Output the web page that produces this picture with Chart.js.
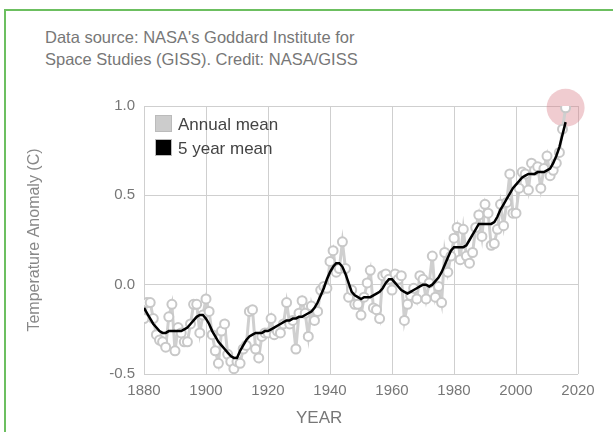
<!DOCTYPE html>
<html>
<head>
<meta charset="utf-8">
<script src="https://cdn.jsdelivr.net/npm/chart.js@4.4.0/dist/chart.umd.min.js"></script>
<style>
  body { margin: 0; background: #fff; font-family: "Liberation Sans", Arial, sans-serif; }
  #wrap { position: relative; width: 613px; height: 432px; overflow: hidden; }
  #frame { position: absolute; left: 4px; top: 9px; width: 700px; height: 500px; border: 2px solid #6cbf60; }
  #credit { position: absolute; left: 45px; top: 26px; font-size: 16.5px; line-height: 22px; color: #777; }
  #myChart { position: absolute; left: 0; top: 0; }
  .lg { position: absolute; left: 155px; font-size: 17px; color: #444; line-height: 18px; }
  .lg span { display: inline-block; width: 15px; height: 15px; border: 1px solid #bbb; vertical-align: -2px; margin-right: 6px; }
  #xtitle { position: absolute; left: 296px; top: 408px; font-size: 17px; color: #777; }
</style>
</head>
<body>
<div id="wrap">
  <div id="frame"></div>
  <div id="credit">Data source: NASA's Goddard Institute for<br>Space Studies (GISS). Credit: NASA/GISS</div>
  <canvas id="myChart" width="613" height="432"></canvas>
  <div class="lg" style="top:115px"><span style="background:#ccc"></span>Annual mean</div>
  <div class="lg" style="top:139px"><span style="background:#000"></span>5 year mean</div>
  <div id="xtitle">YEAR</div>
</div>
<script>
const firstYear = 1880;
const xTicks = [1880, 1900, 1920, 1940, 1960, 1980, 2000, 2020];
const yTicks = [-0.5, 0.0, 0.5, 1.0];

// annual mean, 1880..2016
const annualMean = [
  -0.19, -0.10, -0.10, -0.19, -0.28, -0.31, -0.32, -0.35, -0.18, -0.11,
  -0.37, -0.24, -0.27, -0.32, -0.32, -0.22, -0.11, -0.11, -0.27, -0.17,
  -0.08, -0.15, -0.28, -0.37, -0.44, -0.26, -0.22, -0.39, -0.43, -0.47,
  -0.43, -0.44, -0.36, -0.34, -0.15, -0.14, -0.36, -0.41, -0.29, -0.27,
  -0.27, -0.19, -0.28, -0.26, -0.27, -0.22, -0.10, -0.22, -0.20, -0.36,
  -0.16, -0.09, -0.16, -0.29, -0.12, -0.20, -0.15, -0.03, -0.01, -0.02,
   0.13,  0.19,  0.07,  0.09,  0.24,  0.09, -0.07, -0.03, -0.11, -0.11,
  -0.17, -0.07,  0.01,  0.08, -0.13, -0.14, -0.19,  0.05,  0.06,  0.03,
  -0.03,  0.06,  0.03,  0.05, -0.20, -0.11, -0.06, -0.02, -0.08,  0.05,
   0.03, -0.08,  0.01,  0.16, -0.07, -0.01, -0.10,  0.18,  0.07,  0.16,
   0.26,  0.32,  0.14,  0.31,  0.16,  0.12,  0.18,  0.32,  0.39,  0.27,
   0.45,  0.40,  0.22,  0.23,  0.31,  0.45,  0.33,  0.46,  0.62,  0.40,
   0.40,  0.54,  0.63,  0.62,  0.53,  0.68,  0.64,  0.66,  0.54,  0.65,
   0.72,  0.61,  0.64,  0.68,  0.74,  0.87,  0.99
];

// 5 year mean, 1880..2016
const fiveYearMean = [
  -0.13, -0.16, -0.19, -0.22, -0.24, -0.26, -0.27, -0.27, -0.26, -0.26,
  -0.26, -0.26, -0.26, -0.25, -0.24, -0.22, -0.20, -0.18, -0.17, -0.17,
  -0.19, -0.22, -0.26, -0.29, -0.32, -0.34, -0.36, -0.38, -0.40, -0.41,
  -0.41, -0.37, -0.34, -0.31, -0.29, -0.28, -0.27, -0.27, -0.27, -0.26,
  -0.26, -0.25, -0.24, -0.23, -0.22, -0.21, -0.20, -0.20, -0.19, -0.19,
  -0.18, -0.18, -0.17, -0.16, -0.15, -0.13, -0.10, -0.06, -0.02,  0.03,
   0.07,  0.10,  0.12,  0.12,  0.10,  0.06,  0.01, -0.04, -0.06, -0.07,
  -0.08, -0.07, -0.07, -0.07, -0.06, -0.05, -0.04, -0.02,  0.01,  0.03,
   0.03,  0.01, -0.01, -0.03, -0.04, -0.05, -0.04, -0.03, -0.02, -0.01,
   0.00,  0.00, -0.01,  0.00,  0.02,  0.04,  0.07,  0.11,  0.15,  0.19,
   0.21,  0.21,  0.21,  0.21,  0.22,  0.25,  0.28,  0.31,  0.34,  0.34,
   0.34,  0.34,  0.34,  0.35,  0.38,  0.42,  0.45,  0.48,  0.51,  0.54,
   0.56,  0.58,  0.60,  0.61,  0.62,  0.62,  0.62,  0.63,  0.63,  0.63,
   0.64,  0.65,  0.68,  0.72,  0.77,  0.84,  0.91
];

const toPoints = arr => arr.map((v, i) => ({ x: firstYear + i, y: v }));
const lastIdx = annualMean.length - 1;

const ctx = document.getElementById('myChart');
new Chart(ctx, {
  type: 'line',
  data: {
    datasets: [
      {
        label: '5 year mean',
        data: toPoints(fiveYearMean),
        borderColor: '#000',
        borderWidth: 2.5,
        pointRadius: 0,
        tension: 0
      },
      {
        label: 'Annual mean',
        data: toPoints(annualMean),
        borderColor: '#cfcfcf',
        borderWidth: 3,
        pointRadius: 4.5,
        pointBorderWidth: 2,
        pointBorderColor: '#c8c8c8',
        pointBackgroundColor: '#fff',
        tension: 0
      },
      {
        label: 'latest',
        data: [{ x: firstYear + lastIdx, y: annualMean[lastIdx] }],
        showLine: false,
        clip: false,
        pointRadius: 19,
        pointBorderWidth: 0,
        pointBackgroundColor: 'rgba(215, 120, 132, 0.38)'
      }
    ]
  },
  options: {
    animation: false,
    responsive: false,
    layout: { padding: { left: 20, top: 106, right: 35, bottom: 36 } },
    plugins: { legend: { display: false }, tooltip: { enabled: false } },
    scales: {
      x: {
        type: 'linear',
        min: xTicks[0],
        max: xTicks[xTicks.length - 1],
        afterBuildTicks: s => { s.ticks = xTicks.map(v => ({ value: v })); },
        afterFit: s => { s.height = 22; },
        grid: { color: '#cfcfcf', drawTicks: false },
        border: { display: false },
        ticks: { color: '#777', padding: 8, font: { size: 15, family: 'Liberation Sans' }, callback: v => String(v) }
      },
      y: {
        min: yTicks[0],
        max: yTicks[yTicks.length - 1],
        afterBuildTicks: s => { s.ticks = yTicks.map(v => ({ value: v })); },
        afterFit: s => { s.width = 124; },
        grid: { color: '#cfcfcf', drawTicks: false },
        border: { display: false },
        ticks: { color: '#777', padding: 9, font: { size: 15, family: 'Liberation Sans' }, callback: v => v.toFixed(1) },
        title: {
          display: true,
          text: 'Temperature Anomaly (C)',
          color: '#888',
          padding: { top: 5, bottom: 0 },
          font: { size: 16, family: 'Liberation Sans' }
        }
      }
    }
  }
});
</script>
</body>
</html>
